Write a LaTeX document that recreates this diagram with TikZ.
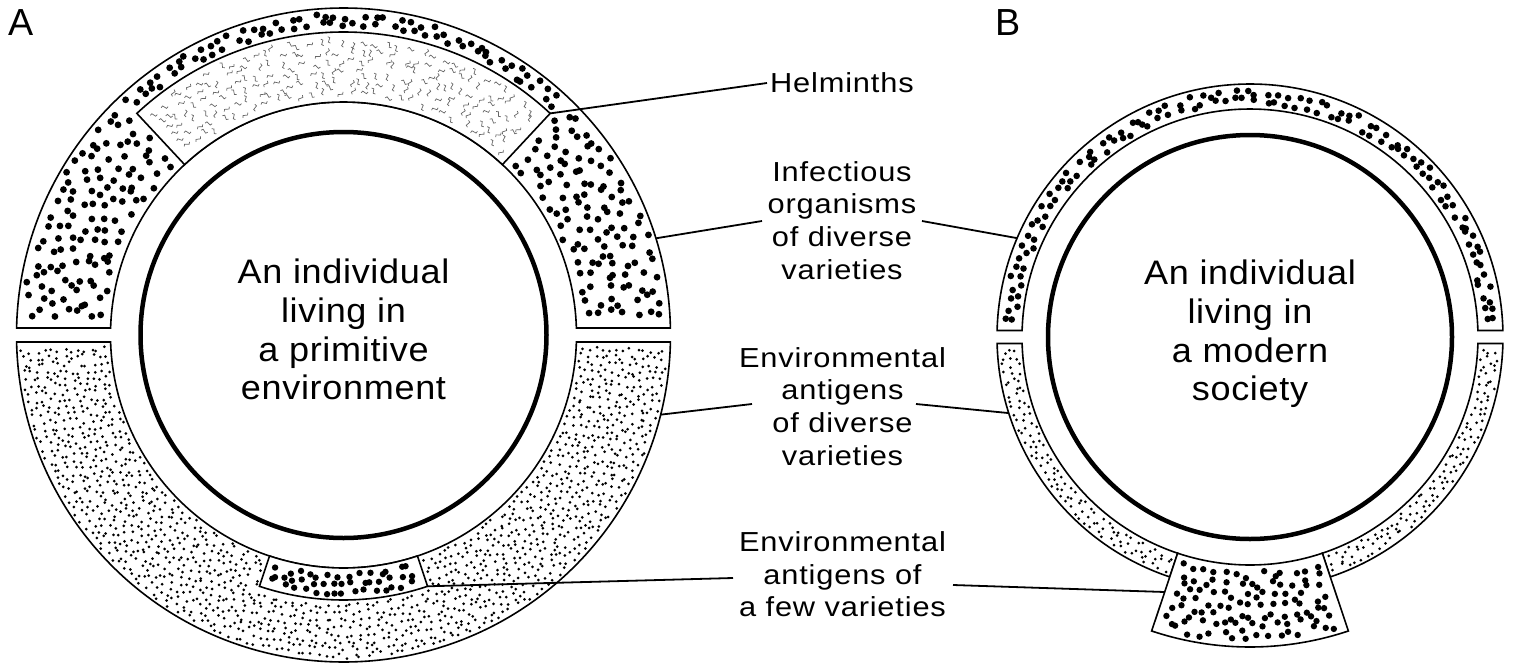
\documentclass[tikz,border=0pt]{standalone}
\usepackage{fontspec}
\usetikzlibrary{calc}
\setmainfont{Liberation Sans}
\newfontfamily\cfont[FakeStretch=1.06,LetterSpace=2]{Liberation Sans}
\newfontfamily\lfont[FakeStretch=1.12,LetterSpace=3]{Liberation Sans}
\newcommand\polardots[8]{% cx cy r1 r2 a1 a2 step radius
  \pgfmathtruncatemacro\pdN{max(1,floor((#4-#3)/#7)+1)}%
  \foreach \pdi in {1,...,\pdN}{%
    \pgfmathsetmacro\pdR{#3+(#4-#3)*(\pdi-0.5)/\pdN}%
    \pgfmathtruncatemacro\pdM{max(1,round((\pdR/57.2958)*(#6-#5)/#7))}%
    \foreach \pdj in {1,...,\pdM}{%
      \pgfmathsetmacro\pdA{#5+(#6-#5)*(\pdj-0.5+0.4*rand)/\pdM}%
      \pgfmathsetmacro\pdRj{\pdR+0.4*rand*(#4-#3)/\pdN}%
      \fill ({#1+\pdRj*cos(\pdA)},{#2+\pdRj*sin(\pdA)}) circle[radius=#8];
    }%
  }%
}
\newcommand\polarsquig[7]{% cx cy r1 r2 a1 a2 step
  \pgfmathtruncatemacro\pdN{max(1,floor((#4-#3)/#7)+1)}%
  \foreach \pdi in {1,...,\pdN}{%
    \pgfmathsetmacro\pdR{#3+(#4-#3)*(\pdi-0.5)/\pdN}%
    \pgfmathtruncatemacro\pdM{max(1,round((\pdR/57.2958)*(#6-#5)/#7))}%
    \foreach \pdj in {1,...,\pdM}{%
      \pgfmathsetmacro\pdA{#5+(#6-#5)*(\pdj-0.5+0.4*rand)/\pdM}%
      \pgfmathsetmacro\pdRj{\pdR+0.4*rand*(#4-#3)/\pdN}%
      \pgfmathsetmacro\pdX{#1+\pdRj*cos(\pdA)}%
      \pgfmathsetmacro\pdY{#2+\pdRj*sin(\pdA)}%
      \pgfmathsetmacro\pdRot{180*rand}%
      \draw[squig, shift={(\pdX,\pdY)}, rotate=\pdRot] (-3.5,0) .. controls (-2.5,2) and (-1,2) .. (0,0) .. controls (1,-2) and (2.5,-2) .. (3.5,0);
    }%
  }%
}
\begin{document}
\begin{tikzpicture}[x=1pt,y=1pt,
  outl/.style={draw=black, line width=1.6pt, fill=white, line join=miter},
  bodyring/.style={draw=black, line width=4.5pt},
  squig/.style={draw=black!60, line width=0.7pt},
  conn/.style={draw=black, line width=1.8pt},
  ctext/.style={font=\cfont\fontsize{34}{38.7}\selectfont, align=center, inner sep=0pt, anchor=north},
  ltext/.style={font=\lfont\fontsize{27.5}{#1}\selectfont, align=center, inner sep=0pt, anchor=north},
  ltext/.default=32.7,
  panel/.style={font=\fontsize{37.7}{40}\selectfont, inner sep=0pt, anchor=base west}]
\useasboundingbox (0,0) rectangle (1532,-664);
\pgfmathsetseed{4242}
\coordinate (A) at (343.5,-335);
\coordinate (B) at (1250,-337);

% ---------------- Panel A ----------------
\draw[outl] ($(A)+(1.23:327)$) arc[start angle=1.23,end angle=178.77,radius=327]
  -- ($(A)+(178.28:233)$) arc[start angle=178.28,end angle=1.72,radius=233] -- cycle;
\draw[outl] ($(A)+(47:233)$) arc[start angle=47,end angle=133,radius=233]
  -- ($(A)+(133:303)$) arc[start angle=133,end angle=47,radius=303] -- cycle;
\draw[outl] ($(A)+(-1.23:327)$) arc[start angle=-1.23,end angle=-178.77,radius=327]
  -- ($(A)+(-178.28:233)$) arc[start angle=-178.28,end angle=-1.72,radius=233] -- cycle;
\draw[outl] ($(A)+(251.5:233)$) arc[start angle=251.5,end angle=288.5,radius=233]
  -- ($(A)+(288.5:265)$) arc[start angle=288.5,end angle=251.5,radius=265] -- cycle;
\draw[bodyring] (A) circle[radius=203];

% large dots (infectious organisms)
\polardots{343.5}{-335}{237.5}{322.5}{3.2}{45.8}{12.5}{3.4}
\polardots{343.5}{-335}{237.5}{322.5}{134.2}{176.8}{12.5}{3.4}
\polardots{343.5}{-335}{307.5}{322.5}{46.5}{133.5}{12}{3.4}
% helminths
\polarsquig{343.5}{-335}{239}{297}{48.5}{131.5}{11.5}
% small dots (environmental antigens)
\polardots{343.5}{-335}{235.5}{324.5}{182.3}{251}{7.2}{1.5}
\polardots{343.5}{-335}{235.5}{324.5}{289}{357.7}{7.2}{1.5}
\polardots{343.5}{-335}{267.5}{324.5}{251}{289}{7.2}{1.5}
% few varieties
\polardots{343.5}{-335}{237.5}{260.5}{253}{287}{10}{3.2}

% ---------------- Panel B ----------------
\draw[outl] ($(B)+(1.47:253)$) arc[start angle=1.47,end angle=178.53,radius=253]
  -- ($(B)+(178.37:228)$) arc[start angle=178.37,end angle=1.63,radius=228] -- cycle;
\draw[outl] ($(B)+(181.47:253)$) arc[start angle=181.47,end angle=251.5,radius=253]
  -- ($(B)+(251.5:228)$) arc[start angle=251.5,end angle=181.63,radius=228] -- cycle;
\draw[outl] ($(B)+(288.5:253)$) arc[start angle=288.5,end angle=358.53,radius=253]
  -- ($(B)+(358.37:228)$) arc[start angle=358.37,end angle=288.5,radius=228] -- cycle;
\draw[outl] ($(B)+(251.5:228)$) arc[start angle=251.5,end angle=288.5,radius=228]
  -- ($(B)+(288.5:310)$) arc[start angle=288.5,end angle=251.5,radius=310] -- cycle;
\draw[bodyring] (B) circle[radius=202];

\polardots{1250}{-337}{232.5}{248.5}{2.7}{177.3}{11}{3.3}
\polardots{1250}{-337}{230.5}{250.5}{182.6}{250.9}{7.2}{1.5}
\polardots{1250}{-337}{230.5}{250.5}{289.1}{357.4}{7.2}{1.5}
\polardots{1250}{-337}{232.5}{305.5}{253}{287}{11}{3.2}

% ---------------- Texts ----------------
\node[panel] (pA) at (8,-35) {A};
\node[panel] (pB) at (995,-35) {B};
\node[ctext] (tA) at (343.5,-259) {An individual\\living in\\a primitive\\environment};
\node[ctext] (tB) at (1250,-260) {An individual\\living in\\a modern\\society};
\node[font=\lfont\fontsize{27.5}{30}\selectfont, inner sep=0pt, anchor=base west] (lH) at (770,-92) {Helminths};
\node[ltext] (lI) at (842,-161) {Infectious\\organisms\\of diverse\\varieties};
\node[ltext] (lE) at (842.5,-347) {Environmental\\antigens\\of diverse\\varieties};
\node[ltext=32.5] (lF) at (842.5,-531.5) {Environmental\\antigens of\\a few varieties};

% ---------------- Connectors ----------------
\coordinate (hA) at ($(A)+(47:303)$);
\coordinate (hT) at (767,-83);
\coordinate (iA) at ($(A)+(17.2:327)$);
\coordinate (iTl) at (762,-221);
\coordinate (iTr) at (922,-221);
\coordinate (iB) at ($(B)+(157:253)$);
\coordinate (eA) at ($(A)+(-14.1:327)$);
\coordinate (eTl) at (752,-404);
\coordinate (eTr) at (916,-404);
\coordinate (eB) at ($(B)+(197.5:253)$);
\coordinate (fA) at ($(A)+(288.5:265)$);
\coordinate (fTl) at (733,-578);
\coordinate (fTr) at (953,-585);
\coordinate (fB) at (1164.6,-592);
\draw[conn] (hA) -- (hT);
\draw[conn] (iA) -- (iTl);
\draw[conn] (iTr) -- (iB);
\draw[conn] (eA) -- (eTl);
\draw[conn] (eTr) -- (eB);
\draw[conn] (fA) -- (fTl);
\draw[conn] (fTr) -- (fB);
\end{tikzpicture}
\end{document}
